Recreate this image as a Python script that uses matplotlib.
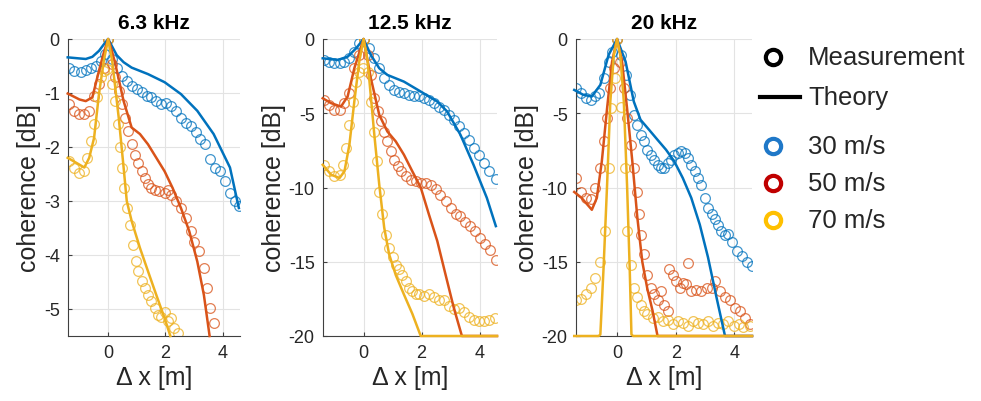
import numpy as np
import matplotlib.pyplot as plt
from matplotlib.lines import Line2D

plt.rcParams['font.family'] = ['Liberation Sans', 'DejaVu Sans']
plt.rcParams['axes.unicode_minus'] = False

titles = ['6.3 kHz', '12.5 kHz', '20 kHz']
speeds = ['30 m/s', '50 m/s', '70 m/s']

# ---- 6.3 kHz ----
xt_63_30 = [-1.41, -1.0, -0.78, -0.55, -0.32, -0.15, 0, 0.15, 0.3, 0.54, 0.82, 1.39, 1.97, 2.54, 3.11, 3.68, 4.25, 4.56]
yt_63_30 = [-0.34, -0.36, -0.37, -0.33, -0.22, -0.1, 0, -0.15, -0.3, -0.43, -0.53, -0.65, -0.80, -1.02, -1.33, -1.76, -2.38, -3.13]
xm_63_30 = [-1.35, -1.18, -0.95, -0.78, -0.61, -0.43, -0.26, -0.11, 0, 0.14, 0.31, 0.48, 0.65, 0.82, 1.0, 1.17, 1.34, 1.51, 1.68, 1.85,
            2.02, 2.19, 2.37, 2.54, 2.71, 2.88, 3.05, 3.22, 3.39, 3.57, 3.74, 3.91, 4.08, 4.25, 4.42, 4.56]
ym_63_30 = [-0.53, -0.59, -0.62, -0.57, -0.53, -0.50, -0.40, -0.28, 0, -0.37, -0.53, -0.68, -0.77, -0.87, -0.93, -0.99, -1.05, -1.08, -1.15, -1.21,
            -1.18, -1.24, -1.33, -1.46, -1.55, -1.61, -1.73, -1.86, -1.95, -2.23, -2.38, -2.45, -2.63, -2.85, -3.0, -3.1]
xt_63_50 = [-1.41, -1.0, -0.78, -0.55, -0.32, -0.15, 0, 0.12, 0.25, 0.54, 0.82, 1.11, 1.39, 1.68, 1.97, 2.25, 2.54, 2.83, 3.11, 3.34, 3.54]
yt_63_50 = [-1.01, -1.12, -1.15, -1.08, -0.59, -0.25, 0, -0.2, -0.46, -1.15, -1.64, -1.76, -1.95, -2.2, -2.45, -2.76, -3.13, -3.56, -4.12, -4.74, -5.5]
xm_63_50 = [-1.35, -1.18, -1.01, -0.83, -0.66, -0.49, -0.32, -0.15, 0, 0.14, 0.25, 0.37, 0.48, 0.59, 0.71, 0.82, 0.94, 1.05, 1.17, 1.28,
            1.39, 1.51, 1.62, 1.79, 1.97, 2.08, 2.19, 2.37, 2.54, 2.71, 2.88, 3.0, 3.17, 3.34, 3.45, 3.57, 3.68]
ym_63_50 = [-1.21, -1.33, -1.39, -1.39, -1.33, -1.05, -0.84, -0.53, 0, -0.46, -0.71, -0.96, -1.21, -1.46, -1.70, -1.95, -2.14, -2.29, -2.45, -2.57,
            -2.69, -2.76, -2.79, -2.82, -2.85, -2.79, -2.88, -3.0, -3.13, -3.31, -3.56, -3.75, -3.93, -4.24, -4.61, -4.98, -5.26]
xt_63_70 = [-1.41, -1.12, -0.83, -0.66, -0.49, -0.32, -0.15, 0, 0.14, 0.37, 0.54, 0.65, 0.82, 1.11, 1.39, 1.68, 1.97, 2.17]
yt_63_70 = [-2.2, -2.29, -2.38, -2.2, -1.83, -1.02, -0.40, 0, -0.40, -1.46, -2.38, -3.0, -3.37, -3.87, -4.30, -4.74, -5.17, -5.5]
xm_63_70 = [-1.35, -1.18, -1.01, -0.83, -0.72, -0.61, -0.49, -0.38, -0.26, -0.15, -0.05, 0, 0.14, 0.25, 0.34, 0.42, 0.48, 0.57, 0.65, 0.77,
            0.88, 0.96, 1.05, 1.17, 1.28, 1.39, 1.51, 1.62, 1.74, 1.85, 1.97, 2.08, 2.19, 2.31, 2.42]
ym_63_70 = [-2.26, -2.38, -2.48, -2.45, -2.2, -1.89, -1.58, -1.08, -0.71, -0.59, -0.55, 0, -0.84, -1.14, -1.58, -2.0, -2.38, -2.76, -3.13, -3.44,
            -3.81, -4.12, -4.30, -4.49, -4.61, -4.74, -4.86, -4.99, -5.11, -5.14, -5.05, -5.23, -5.17, -5.36, -5.45]

# ---- 12.5 kHz ----
xt_125_30 = [-1.41, -0.89, -0.55, -0.26, 0, 0.25, 0.54, 0.82, 1.39, 1.97, 2.54, 2.88, 3.34, 3.79, 4.25, 4.56]
yt_125_30 = [-1.3, -1.41, -1.19, -0.63, 0, -1.08, -1.97, -2.42, -2.87, -3.54, -4.21, -4.88, -6.45, -8.47, -10.7, -12.6]
xm_125_30 = [-1.35, -1.18, -1.01, -0.83, -0.66, -0.49, -0.32, -0.15, 0, 0.19, 0.37, 0.54, 0.71, 0.88, 1.05, 1.22, 1.39, 1.57, 1.74, 1.91,
             2.08, 2.25, 2.42, 2.59, 2.77, 2.94, 3.11, 3.28, 3.45, 3.62, 3.79, 3.97, 4.14, 4.31, 4.56]
ym_125_30 = [-1.41, -1.52, -1.63, -1.63, -1.52, -1.30, -0.85, -0.29, 0, -0.63, -1.30, -1.97, -2.64, -3.09, -3.43, -3.54, -3.65, -3.76, -3.83, -3.87,
             -3.99, -4.10, -4.32, -4.55, -4.77, -5.11, -5.44, -5.89, -6.34, -6.79, -7.35, -7.79, -8.35, -8.91, -9.41]
xt_125_50 = [-1.41, -1.12, -0.78, -0.55, -0.32, 0, 0.25, 0.54, 0.82, 1.11, 1.39, 1.68, 1.97, 2.25, 2.54, 2.83, 3.11, 3.39, 4.6]
yt_125_50 = [-3.99, -4.32, -4.55, -3.87, -1.97, 0, -2.64, -5.11, -6.23, -6.9, -7.79, -8.91, -10.0, -11.8, -13.6, -15.9, -18.1, -20, -20]
xm_125_50 = [-1.35, -1.18, -1.01, -0.83, -0.66, -0.49, -0.32, -0.15, 0, 0.14, 0.25, 0.37, 0.48, 0.59, 0.71, 0.82, 0.94, 1.05, 1.17, 1.28,
             1.45, 1.62, 1.79, 1.97, 2.14, 2.31, 2.48, 2.65, 2.83, 3.0, 3.17, 3.34, 3.51, 3.68, 3.85, 4.02, 4.19, 4.37, 4.56]
ym_125_50 = [-4.1, -4.43, -4.77, -4.77, -4.32, -3.65, -1.97, -1.08, 0, -1.08, -2.42, -3.99, -4.88, -5.55, -6.23, -6.90, -7.57, -8.13, -8.58, -8.91,
             -9.25, -9.47, -9.59, -9.70, -9.70, -9.81, -10.1, -10.5, -10.9, -11.4, -11.8, -11.9, -12.3, -12.6, -12.9, -13.4, -13.8, -14.2, -14.85]
xt_125_70 = [-1.41, -1.12, -0.83, -0.66, -0.49, -0.32, -0.15, 0, 0.14, 0.37, 0.54, 0.71, 0.88, 1.11, 1.39, 1.68, 1.97, 4.6]
yt_125_70 = [-8.47, -9.14, -9.36, -8.91, -7.12, -4.21, -1.52, 0, -1.52, -6.45, -9.81, -12.7, -14.5, -15.9, -17.2, -18.5, -20, -20]
xm_125_70 = [-1.35, -1.18, -1.01, -0.83, -0.72, -0.61, -0.49, -0.38, -0.26, -0.15, -0.03, 0, 0.14, 0.25, 0.37, 0.46, 0.54, 0.65, 0.77, 0.88,
             1.0, 1.11, 1.22, 1.34, 1.45, 1.57, 1.68, 1.79, 1.91, 2.08, 2.25, 2.42, 2.59, 2.77, 2.94, 3.11, 3.28, 3.45, 3.62, 3.79,
             3.97, 4.14, 4.31, 4.54]
ym_125_70 = [-8.47, -8.91, -9.25, -9.14, -8.47, -7.35, -5.78, -4.21, -2.87, -2.19, -1.97, 0, -2.19, -4.21, -6.23, -8.24, -10.3, -11.8, -13.2, -14.1,
             -14.7, -15.2, -15.5, -15.9, -16.3, -16.8, -17.0, -17.2, -17.2, -17.3, -17.2, -17.4, -17.6, -17.6, -18.0, -18.2, -18.1, -18.4, -18.7, -18.9,
             -19.0, -19.0, -18.9, -18.8]

# ---- 20 kHz ----
xt_20_30 = [-1.46, -1.15, -0.86, -0.57, -0.29, 0, 0.29, 0.57, 0.80, 1.09, 1.38, 1.67, 1.95, 2.24, 2.53, 2.82, 3.10, 3.39, 3.68, 4.6]
yt_20_30 = [-3.43, -3.76, -3.87, -3.09, -1.08, 0, -1.52, -4.21, -5.44, -6.11, -6.79, -7.46, -8.24, -9.36, -10.7, -12.5, -14.7, -17.4, -20, -20]
xm_20_30 = [-1.41, -1.24, -1.07, -0.90, -0.75, -0.61, -0.46, -0.29, -0.17, 0, 0.15, 0.29, 0.43, 0.57, 0.69, 0.80, 0.92, 1.03, 1.15, 1.26,
            1.38, 1.49, 1.61, 1.72, 1.84, 1.95, 2.07, 2.18, 2.30, 2.41, 2.53, 2.64, 2.76, 2.87, 2.99, 3.10, 3.22, 3.33, 3.45, 3.56,
            3.68, 3.79, 3.91, 4.08, 4.25, 4.43, 4.60]
ym_20_30 = [-3.31, -3.65, -3.99, -4.10, -3.87, -3.65, -2.64, -1.52, -0.85, 0, -1.08, -2.42, -3.76, -5.11, -5.78, -6.45, -6.90, -7.46, -7.79, -8.13,
            -8.47, -8.69, -8.69, -8.35, -8.13, -7.79, -7.68, -7.57, -7.68, -8.02, -8.47, -8.91, -9.36, -9.81, -10.7, -11.4, -11.8, -12.1, -12.5, -12.9,
            -13.2, -13.1, -13.7, -14.3, -14.6, -15.0, -15.3]
xt_20_50 = [-1.46, -1.21, -0.86, -0.69, -0.52, -0.34, -0.17, 0, 0.17, 0.34, 0.52, 0.69, 0.86, 1.03, 1.21, 1.38, 4.6]
yt_20_50 = [-10.3, -10.7, -11.5, -10.7, -8.24, -4.66, -1.52, 0, -1.52, -4.66, -8.24, -12.0, -15.0, -16.8, -18.3, -20, -20]
xm_20_50 = [-1.41, -1.24, -1.07, -0.90, -0.75, -0.57, -0.46, -0.34, -0.23, -0.11, 0, 0.11, 0.23, 0.34, 0.46, 0.57, 0.69, 0.75, 0.80, 0.92,
            1.03, 1.15, 1.26, 1.38, 1.49, 1.61, 1.72, 1.78, 1.90, 2.01, 2.13, 2.24, 2.36, 2.41, 2.53, 2.70, 2.87, 3.05, 3.22, 3.33,
            3.51, 3.68, 3.85, 4.02, 4.20, 4.37, 4.54]
ym_20_50 = [-9.36, -10.3, -10.7, -10.8, -10.0, -8.69, -6.9, -5.33, -3.31, -1.97, 0, -1.52, -3.31, -5.33, -7.12, -8.69, -10.3, -11.8, -13.2, -14.5,
            -15.9, -16.8, -17.2, -17.6, -17.0, -17.9, -18.3, -15.5, -15.9, -16.3, -16.8, -16.4, -16.5, -15.1, -17.0, -16.9, -17.0, -16.8, -16.8, -16.3,
            -17.0, -17.4, -17.6, -18.1, -18.3, -18.8, -19.2]
xt_20_70 = [-1.46, -0.63, -0.57, -0.46, -0.34, -0.23, -0.11, 0, 0.11, 0.23, 0.34, 0.43, 0.49, 0.55, 4.6]
yt_20_70 = [-20, -20, -19.9, -15.4, -9.81, -4.21, -1.08, 0, -1.08, -4.21, -9.81, -15.4, -19.9, -20, -20]
xm_20_70 = [-1.41, -1.24, -1.07, -0.90, -0.75, -0.57, -0.40, -0.29, -0.20, -0.08, 0, 0.15, 0.26, 0.34, 0.46, 0.57, 0.69, 0.80, 0.92, 1.03,
            1.21, 1.38, 1.55, 1.72, 1.90, 2.07, 2.24, 2.41, 2.59, 2.76, 2.93, 3.10, 3.28, 3.45, 3.62, 3.79, 3.97, 4.14, 4.31, 4.54]
ym_20_70 = [-17.6, -17.5, -17.2, -16.8, -16.1, -15.0, -12.9, -8.69, -4.66, -2.64, 0, -4.55, -8.69, -12.9, -15.2, -16.8, -17.4, -17.9, -18.3, -18.5,
            -18.8, -18.7, -19.0, -18.9, -19.2, -19.0, -19.1, -19.3, -19.0, -19.1, -19.2, -19.0, -19.3, -19.1, -19.2, -19.0, -19.3, -19.2, -19.4, -19.3]

ylims = [(-5.5, 0), (-20, 0), (-20, 0)]
yticks = [[-5, -4, -3, -2, -1, 0], [-20, -15, -10, -5, 0], [-20, -15, -10, -5, 0]]

theory = [[(xt_63_30, yt_63_30), (xt_63_50, yt_63_50), (xt_63_70, yt_63_70)],
          [(xt_125_30, yt_125_30), (xt_125_50, yt_125_50), (xt_125_70, yt_125_70)],
          [(xt_20_30, yt_20_30), (xt_20_50, yt_20_50), (xt_20_70, yt_20_70)]]
meas = [[(xm_63_30, ym_63_30), (xm_63_50, ym_63_50), (xm_63_70, ym_63_70)],
        [(xm_125_30, ym_125_30), (xm_125_50, ym_125_50), (xm_125_70, ym_125_70)],
        [(xm_20_30, ym_20_30), (xm_20_50, ym_20_50), (xm_20_70, ym_20_70)]]

cols = ['#0072BD', '#D95319', '#EDB120']  # matlab default order
leg_cols = ['#1F78C8', '#C00000', '#FFC000']
txt = '#262626'

fig = plt.figure(figsize=(9.81, 4.02), dpi=100)
lefts = [68/981, 323/981, 576/981]
widths = [172/981, 174/981, 176/981]
bottom = 65/402
height = 297/402

for p in range(3):
    ax = fig.add_axes([lefts[p], bottom, widths[p], height])
    for s in range(3):
        xm, ym = meas[p][s]
        ax.plot(xm, ym, 'o', mfc='none', mec=cols[s], ms=7, mew=0.9, alpha=0.75, zorder=2)
    for s in range(3):
        xt, yt = theory[p][s]
        ax.plot(xt, yt, '-', color=cols[s], lw=1.8, zorder=3, clip_on=False)
    ax.set_xlim(-1.4, 4.6)
    ax.set_ylim(*ylims[p])
    ax.set_xticks([0, 2, 4])
    ax.set_yticks(yticks[p])
    ax.grid(True, color='#e3e3e3', lw=0.8)
    ax.set_axisbelow(True)
    for sp in ['top', 'right']:
        ax.spines[sp].set_visible(False)
    for sp in ['left', 'bottom']:
        ax.spines[sp].set_color('#404040')
        ax.spines[sp].set_linewidth(0.8)
    ax.tick_params(direction='in', length=3, colors='#404040', labelcolor=txt, labelsize=13, pad=6)
    ax.set_title(titles[p], fontsize=15, fontweight='bold', color='black', pad=8)
    ax.set_xlabel('Δ x [m]', fontsize=18, color=txt, labelpad=3)
    ax.set_ylabel('coherence [dB]', fontsize=18, color=txt, labelpad=2)

# legend drawn in its own blank axes (pixel units)
lax = fig.add_axes([750/981, 0, 231/981, 1])
lax.set_xlim(750, 981)
lax.set_ylim(402, 0)
lax.axis('off')
lax.plot([773], [58], 'o', mfc='none', mec='black', ms=11, mew=3)
lax.text(808, 58, 'Measurement', fontsize=18.5, va='center', ha='left', color=txt)
lax.plot([760, 800], [98, 98], '-', color='black', lw=3)
lax.text(808, 98, 'Theory', fontsize=18.5, va='center', ha='left', color=txt)
for s in range(3):
    yy = 147 + 37*s
    lax.plot([773], [yy], 'o', mfc='none', mec=leg_cols[s], ms=11, mew=3)
    lax.text(808, yy, speeds[s], fontsize=18.5, va='center', ha='left', color=txt)

fig.savefig('out.png', dpi=100)
